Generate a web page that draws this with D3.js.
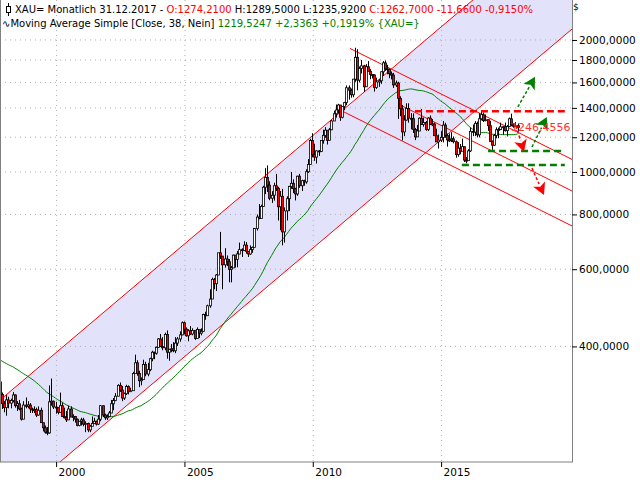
<!DOCTYPE html>
<html><head><meta charset="utf-8">
<script src="https://cdn.jsdelivr.net/npm/d3@7"></script>
<style>body{margin:0;background:#fff}text{font-family:"DejaVu Sans",sans-serif}</style>
</head><body><div id="chart"></div>
<script>
// Monthly closes from Aug 1994 (extra history so the 38-month SMA starts at the left edge).
const closeStart = [1994, 7];
const closes = [
  385,394,389,383,383,
  375,377,392,389,385,387,383,383,384,383,387,387,
  405,400,396,392,391,382,385,387,379,379,371,369,
  345,363,352,340,345,334,326,325,332,311,296,290,
  302,297,301,310,293,296,288,273,294,292,294,288,
  287,287,279,286,268,261,255,254,299,300,291,290,
  283,293,277,275,272,288,276,277,273,264,270,272,
  266,267,258,263,267,270,266,273,293,279,275,277,
  282,296,301,308,326,318,305,312,324,316,317,347,
  367,347,334,336,364,346,354,375,388,386,398,416,
  400,397,426,388,394,395,391,407,416,425,453,438,
  423,434,427,435,417,437,429,433,473,470,495,513,
  569,556,582,654,643,614,633,624,599,604,646,632,
  650,665,662,681,659,650,665,673,743,789,783,834,
  923,971,933,871,885,930,918,833,880,730,815,869,
  927,942,916,891,978,930,955,949,1001,1040,1180,1095,
  1081,1117,1113,1180,1212,1245,1181,1248,1307,1357,1385,1421,
  1333,1410,1439,1556,1536,1500,1628,1826,1620,1722,1746,1564,
  1737,1697,1668,1664,1558,1604,1614,1692,1773,1719,1713,1675,
  1663,1579,1595,1472,1393,1234,1313,1396,1326,1323,1250,1202,
  1240,1326,1284,1296,1250,1327,1282,1287,1210,1171,1182,1199,
  1279,1212,1183,1183,1190,1172,1095,1133,1115,1142,1064,1061,
  1117,1238,1233,1291,1215,1322,1351,1309,1316,1275,1173,1151,
  1211,1248,1249,1268,1268,1242,1269,1322,1280,1271,1275,1263
];
// Highs / lows of the candles shown, from Oct 1997.
const candleStart = [1997, 9];
const highs = [
  335,314,300,
  310,307,304,315,311,300,302,290,300,306,300,297,
  290,292,290,292,290,266,264,262,326,338,301,299,
  290,314,298,290,285,293,292,280,277,274,270,275,
  275,270,268,265,277,275,271,279,294,293,281,280,
  285,302,305,313,328,331,325,314,327,326,322,350,
  383,372,352,340,373,369,367,377,391,389,400,418,
  427,420,430,435,395,405,409,420,420,433,456,456,
  442,438,445,440,433,442,430,440,475,480,498,540,
  574,573,585,650,730,633,670,645,633,610,648,640,
  660,690,670,695,692,660,680,676,745,800,845,842,
  930,1020,1035,952,904,945,990,925,905,915,830,880,
  930,1000,962,920,980,990,960,960,1014,1070,1190,1225,
  1160,1120,1122,1180,1248,1265,1215,1260,1315,1380,1425,1430,
  1422,1410,1445,1575,1575,1550,1630,1920,1905,1740,1800,1755,
  1762,1790,1716,1668,1670,1641,1628,1695,1790,1795,1755,1722,
  1695,1683,1616,1606,1488,1422,1347,1434,1434,1362,1360,1260,
  1280,1332,1392,1331,1307,1333,1346,1320,1296,1255,1217,1239,
  1307,1295,1223,1224,1232,1205,1180,1170,1158,1191,1142,1082,
  1127,1263,1283,1306,1303,1362,1375,1367,1352,1315,1308,1180,
  1220,1264,1262,1295,1272,1296,1279,1331,1358,1293,1299,1290
];
const lows = [
  306,288,283,
  278,289,289,298,290,285,286,271,273,289,289,282,
  282,282,276,278,268,256,253,251,253,293,288,281,
  280,283,276,274,269,272,276,270,268,263,263,264,
  263,255,255,255,263,267,264,265,270,276,272,272,
  277,282,286,300,308,315,300,302,310,311,315,318,
  349,343,323,326,337,342,342,351,370,374,383,398,
  400,392,392,375,371,388,388,386,401,410,424,426,
  421,411,425,424,414,418,418,424,432,460,470,490,
  513,540,535,585,633,540,605,610,560,560,608,605,
  606,649,640,660,651,640,647,654,673,735,780,785,
  834,890,900,862,850,860,905,775,736,680,690,775,
  814,915,895,861,882,920,905,930,940,995,1045,1080,
  1060,1045,1088,1110,1160,1197,1155,1180,1245,1312,1330,1360,
  1308,1325,1383,1420,1462,1477,1480,1605,1535,1600,1677,1523,
  1563,1696,1627,1634,1525,1547,1564,1588,1655,1700,1670,1636,
  1626,1555,1563,1321,1340,1180,1207,1309,1295,1251,1227,1182,
  1202,1241,1280,1268,1241,1240,1280,1272,1207,1183,1131,1170,
  1168,1197,1142,1170,1170,1162,1078,1083,1097,1137,1053,1046,
  1071,1111,1207,1208,1199,1199,1311,1300,1304,1241,1170,1123,
  1147,1193,1194,1245,1215,1236,1205,1266,1271,1261,1266,1236
];
const priceTicks = [2000, 1800, 1600, 1400, 1200, 1000, 800, 600, 400];
const yearTicks = [2000, 2005, 2010, 2015];
// Drawn trend lines, [year, price] pairs
const upChannel = [[[1997.8, 302], [2016.22, 2467]], [[2000.13, 218], [2020.08, 2118]]];
const downChannel = [
  [[2011.43, 1913], [2020.08, 1068]],
  [[2013.38, 1422], [2020.08, 905]],
  [[2011.04, 1385], [2020.08, 753]]
];
const hLines = [
  {from: 2013.96, to: 2019.8, price: 1375, color: '#ff0000'},
  {from: 2016.81, to: 2019.8, price: 1116, color: '#008000'},
  {from: 2015.79, to: 2019.8, price: 1037, color: '#008000'}
];
const arrows = [
  {a: [2017.97, 1407], b: [2018.64, 1648], color: '#008000'},
  {a: [2018.52, 1140], b: [2019.1, 1335], color: '#008000'},
  {a: [2017.9, 1273], b: [2018.21, 1111], color: '#ff0000'},
  {a: [2018.52, 1020], b: [2018.99, 886], color: '#ff0000'}
];
const maPeriod = 38;

const W = 640, H = 480, plotW = 572, plotH = 462;
const svg = d3.select('#chart').append('svg').attr('width', W).attr('height', H);
const x = d3.scaleLinear().domain([1997.795, 2020.08]).range([0, plotW]);
const y = d3.scaleLog().domain([2467, 218]).range([0, plotH]);

svg.append('clipPath').attr('id', 'clip').append('rect').attr('width', plotW).attr('height', plotH);
const plot = svg.append('g').attr('clip-path', 'url(#clip)');

const pt = (d) => [x(d[0]), y(d[1])];
// extend a two-point line to the plot width
function extend(l, x0, x1) {
  const [a, b] = l.map(pt);
  const k = (b[1] - a[1]) / (b[0] - a[0]);
  return [[x0, a[1] + k * (x0 - a[0])], [x1, a[1] + k * (x1 - a[0])]];
}

// channel fill
const u = extend(upChannel[0], -10, plotW + 10), l = extend(upChannel[1], -10, plotW + 10);
plot.append('path').attr('d', d3.line()([u[0], u[1], l[1], l[0]])).attr('fill', '#e2e2fa');

// grid
plot.selectAll('.hg').data(priceTicks).join('line')
  .attr('x1', 0).attr('x2', plotW).attr('y1', (d) => y(d)).attr('y2', (d) => y(d))
  .attr('stroke', '#b0b0b0').attr('stroke-dasharray', '1,4');
plot.selectAll('.vg').data(yearTicks).join('line')
  .attr('x1', (d) => x(d)).attr('x2', (d) => x(d)).attr('y1', 0).attr('y2', plotH)
  .attr('stroke', '#b0b0b0').attr('stroke-dasharray', '1,4');

upChannel.forEach((c) => {
  plot.append('path').attr('d', d3.line()(extend(c, -10, plotW + 10))).attr('stroke', '#ff0000').attr('fill', 'none');
});
downChannel.forEach((c) => {
  plot.append('path').attr('d', d3.line()(extend(c, x(c[0][0]), plotW + 10))).attr('stroke', '#ff0000').attr('fill', 'none');
});

// month -> fractional year (centre of month)
const t = (start, i) => start[0] + (start[1] + i) / 12 + 1 / 24;

// moving average
const ma = [];
for (let i = maPeriod - 1; i < closes.length; i++) {
  ma.push([t(closeStart, i), d3.mean(closes.slice(i - maPeriod + 1, i + 1))]);
}
plot.append('path').attr('d', d3.line().x((d) => x(d[0])).y((d) => y(d[1]))(ma))
  .attr('stroke', '#008000').attr('fill', 'none');

// candles
const offset = (candleStart[0] - closeStart[0]) * 12 + candleStart[1] - closeStart[1];
const candles = highs.map((h, i) => ({
  t: t(candleStart, i), h, l: lows[i],
  o: closes[offset + i - 1], c: closes[offset + i]
}));
const cg = plot.append('g');
cg.selectAll('line').data(candles).join('line')
  .attr('x1', (d) => Math.round(x(d.t)) + 0.5).attr('x2', (d) => Math.round(x(d.t)) + 0.5)
  .attr('y1', (d) => y(d.h)).attr('y2', (d) => y(d.l)).attr('stroke', '#000');
cg.selectAll('rect').data(candles).join('rect')
  .attr('x', (d) => Math.round(x(d.t)) - 0.5).attr('width', 2)
  .attr('y', (d) => y(Math.max(d.o, d.c))).attr('height', (d) => Math.max(1, Math.abs(y(d.o) - y(d.c))))
  .attr('fill', (d) => d.c < d.o ? '#ff0000' : '#fff').attr('stroke', '#000').attr('stroke-width', 0.8);

// horizontal dashed levels
plot.selectAll('.hl').data(hLines).join('line')
  .attr('x1', (d) => x(d.from)).attr('x2', (d) => x(d.to)).attr('y1', (d) => y(d.price)).attr('y2', (d) => y(d.price))
  .attr('stroke', (d) => d.color).attr('stroke-width', 2.5).attr('stroke-dasharray', '7,4');

// arrows
arrows.forEach((a) => {
  const [p0, p1] = [pt(a.a), pt(a.b)];
  const ang = Math.atan2(p1[1] - p0[1], p1[0] - p0[0]);
  const len = 12, wdt = 6.5;
  const base = [p1[0] - len * Math.cos(ang), p1[1] - len * Math.sin(ang)];
  plot.append('line').attr('x1', p0[0]).attr('y1', p0[1]).attr('x2', base[0]).attr('y2', base[1])
    .attr('stroke', a.color).attr('stroke-width', 1.5).attr('stroke-dasharray', '3,2');
  const nx = -Math.sin(ang) * wdt, ny = Math.cos(ang) * wdt;
  plot.append('path').attr('d', d3.line()([p1, [base[0] + nx, base[1] + ny], [base[0] + 3 * Math.cos(ang), base[1] + 3 * Math.sin(ang)], [base[0] - nx, base[1] - ny]]) + 'Z')
    .attr('fill', a.color);
});

plot.append('text').attr('x', x(2017.7)).attr('y', y(1268)).attr('dy', '0.35em')
  .attr('font-size', 11).attr('fill', '#ff3030').text('1246,4556');

// frame + axes
svg.append('rect').attr('x', 0.5).attr('y', -1).attr('width', plotW).attr('height', plotH + 1)
  .attr('fill', 'none').attr('stroke', '#808080');
const yAx = svg.append('g');
yAx.selectAll('line').data(priceTicks).join('line')
  .attr('x1', plotW).attr('x2', plotW + 5).attr('y1', (d) => y(d) + 0.5).attr('y2', (d) => y(d) + 0.5).attr('stroke', '#000');
yAx.selectAll('text').data(priceTicks).join('text')
  .attr('x', plotW + 7).attr('y', (d) => y(d)).attr('dy', '0.35em').attr('font-size', 10.5)
  .text((d) => d3.format(',.4f')(d).replace(',', '').replace('.', ','));
const xAx = svg.append('g');
xAx.selectAll('line').data(yearTicks).join('line')
  .attr('x1', (d) => x(d)).attr('x2', (d) => x(d)).attr('y1', plotH).attr('y2', plotH + 5).attr('stroke', '#000');
xAx.selectAll('text').data(yearTicks).join('text')
  .attr('x', (d) => x(d) + 2).attr('y', plotH + 14).attr('font-size', 10.5).text((d) => d);
svg.append('text').attr('x', plotW + 1).attr('y', 10).attr('font-size', 9).text('$');

// header
const hdr = svg.append('g').attr('font-size', 10);
const l1 = hdr.append('text').attr('x', 15).attr('y', 13);
[['XAU= Monatlich  31.12.2017 - ', '#000'], ['O:1274,2100 ', '#ff0000'], ['H:1289,5000 L:1235,9200 ', '#000'],
 ['C:1262,7000 -11,6600 -0,9150%', '#ff0000']].forEach(([s, c]) => l1.append('tspan').attr('fill', c).text(s));
const l2 = hdr.append('text').attr('x', 2).attr('y', 27);
[['∿Moving Average Simple [Close, 38, Nein] ', '#000'], ['1219,5247 +2,3363 +0,1919% {XAU=}', '#008000']]
  .forEach(([s, c]) => l2.append('tspan').attr('fill', c).text(s));
hdr.append('line').attr('x1', 8.5).attr('x2', 8.5).attr('y1', 3).attr('y2', 16).attr('stroke', '#000');
hdr.append('rect').attr('x', 6.5).attr('y', 6.5).attr('width', 4).attr('height', 6).attr('fill', '#fff').attr('stroke', '#000');
</script></body></html>
